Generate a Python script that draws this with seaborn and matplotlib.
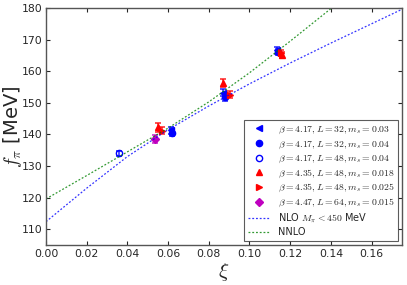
import matplotlib
matplotlib.use("Agg")
import matplotlib.pyplot as plt
import seaborn as sns
import pandas as pd

# lattice data: xi, f_pi [MeV], error
xi_a = [0.0615, 0.0868, 0.1135]
fpi_a = [141.3, 153.2, 166.7]
err_a = [1.2, 1.1, 1.1]

xi_b = [0.0620, 0.0882, 0.1142]
fpi_b = [140.6, 151.8, 166.0]
err_b = [1.2, 1.2, 1.0]

xi_c = [0.0360]
fpi_c = [134.0]
err_c = [0.9]

xi_d = [0.0552, 0.0872, 0.1160]
fpi_d = [142.2, 156.2, 165.2]
err_d = [1.3, 1.2, 1.0]

xi_e = [0.0568, 0.0905, 0.1155]
fpi_e = [141.2, 152.6, 165.8]
err_e = [1.1, 1.0, 1.0]

xi_f = [0.0538]
fpi_f = [138.5]
err_f = [1.2]

# fit curves
xi_nlo = [0.0, 0.02, 0.04, 0.06, 0.08, 0.10, 0.12, 0.14, 0.16, 0.175]
fpi_nlo = [112.4, 123.0, 133.0, 141.5, 149.0, 156.0, 162.6, 168.9, 175.0, 179.6]
xi_nnlo = [0.0, 0.02, 0.04, 0.06, 0.08, 0.10, 0.12, 0.14, 0.15]
fpi_nnlo = [119.6, 127.0, 134.5, 142.0, 150.3, 159.5, 169.5, 179.8, 185.0]

sns.set_style("ticks")
plt.rcParams['mathtext.fontset'] = 'cm'
plt.rcParams['font.family'] = ['DejaVu Sans']

fig, ax = plt.subplots(figsize=(4.07, 2.85), dpi=100)

sets = [
    (xi_a, fpi_a, err_a, '<', 'b', 'b', r'$\beta=4.17, L=32, m_s=0.03$'),
    (xi_b, fpi_b, err_b, 'o', 'b', 'b', r'$\beta=4.17, L=32, m_s=0.04$'),
    (xi_c, fpi_c, err_c, 'o', 'b', 'none', r'$\beta=4.17, L=48, m_s=0.04$'),
    (xi_d, fpi_d, err_d, '^', 'r', 'r', r'$\beta=4.35, L=48, m_s=0.018$'),
    (xi_e, fpi_e, err_e, '>', 'r', 'r', r'$\beta=4.35, L=48, m_s=0.025$'),
    (xi_f, fpi_f, err_f, 'D', 'm', 'm', r'$\beta=4.47, L=64, m_s=0.015$'),
]
for x, y, e, mk, col, face, lab in sets:
    ax.errorbar(x, y, yerr=e, fmt='none', ecolor=col, elinewidth=1.2,
                capsize=2.5, capthick=1.2, alpha=0.8)
    ax.plot(x, y, linestyle='none', marker=mk, color=col, markerfacecolor=face,
            markeredgecolor=col, markersize=4.5 if mk != 'D' else 4, label=lab)

nlo = pd.DataFrame({'xi': xi_nlo, 'fpi': fpi_nlo})
nnlo = pd.DataFrame({'xi': xi_nnlo, 'fpi': fpi_nnlo})
sns.lineplot(data=nlo, x='xi', y='fpi', ax=ax, color='b', linestyle=(0, (1.5, 1.5)),
             linewidth=0.9, alpha=0.8, label=r'NLO $M_\pi<450$ MeV')
sns.lineplot(data=nnlo, x='xi', y='fpi', ax=ax, color='g', linestyle=(0, (1.5, 1.5)),
             linewidth=0.9, alpha=0.8, label='NNLO')

ax.set_xlim(0, 0.175)
ax.set_ylim(105, 180)
ax.set_xticks([0.0, 0.02, 0.04, 0.06, 0.08, 0.10, 0.12, 0.14, 0.16])
ax.set_xticklabels(['0.00', '0.02', '0.04', '0.06', '0.08', '0.10', '0.12', '0.14', '0.16'])
ax.set_yticks([110, 120, 130, 140, 150, 160, 170, 180])
ax.tick_params(direction='in', top=True, right=True, labelsize=7.8, length=3, pad=2.5)
for s in ax.spines.values():
    s.set_color('#555555')
    s.set_linewidth(1)
ax.set_xlabel(r'$\xi$', fontsize=15, labelpad=2)
ax.set_ylabel(r'$f_\pi$ [MeV]', fontsize=14)
ax.yaxis.set_label_coords(-0.063, 0.5)

leg = ax.legend(loc='lower right', fontsize=7, numpoints=1, handlelength=2.2,
                frameon=True, fancybox=False, borderpad=0.4, labelspacing=0.25,
                handletextpad=0.8, borderaxespad=0.4)
leg.get_frame().set_edgecolor('#333333')
leg.get_frame().set_linewidth(0.8)

plt.subplots_adjust(left=0.113, right=0.988, bottom=0.14, top=0.972)
plt.savefig('out.png', dpi=100)
